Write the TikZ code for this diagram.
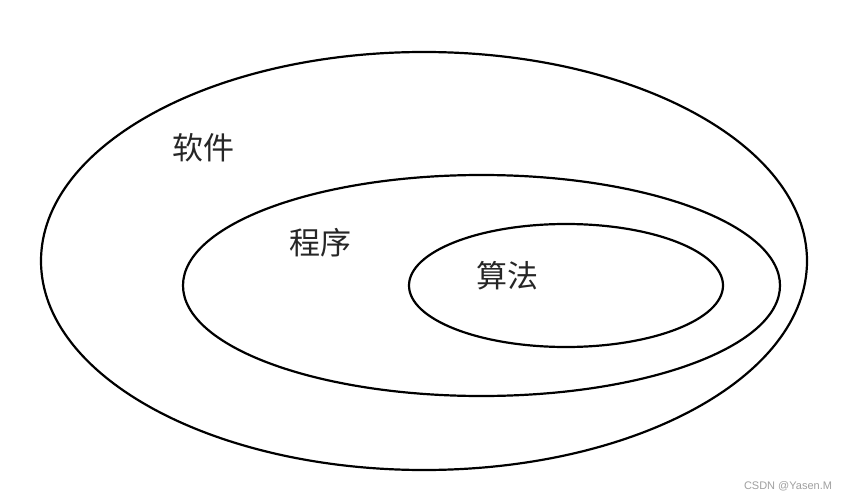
\documentclass[tikz,border=0pt]{standalone}
\usepackage{fontspec}
\newfontfamily\cjk{Noto Sans CJK SC}
\newfontfamily\wmfont{Liberation Sans}
\usetikzlibrary{shapes.geometric}
\definecolor{wmgray}{HTML}{A0A0A0}
\begin{document}
\begin{tikzpicture}[x=1pt,y=-1pt,
  ring/.style={draw=black,line width=2.2pt,ellipse,inner sep=0pt,outer sep=0pt},
  lbl/.style={font=\cjk\fontsize{31}{31}\selectfont,inner sep=0pt,text=black!85},
  wm/.style={font=\wmfont\fontsize{11}{11}\selectfont,text=wmgray,inner sep=0pt}]
\useasboundingbox[fill=white] (0,0) rectangle (848,500);
\node[ring,minimum width=766pt,minimum height=418pt] (outer) at (424,261) {};
\node[ring,minimum width=597pt,minimum height=221pt] (middle) at (481.5,285.5) {};
\node[ring,minimum width=314pt,minimum height=123pt] (inner) at (566,285.5) {};
\node[lbl] (soft) at (203,148) {软件};
\node[lbl] (prog) at (320,243) {程序};
\node[lbl] (algo) at (507,276) {算法};
\node[wm] (mark) at (788,486.5) {CSDN @Yasen.M};
\end{tikzpicture}
\end{document}
